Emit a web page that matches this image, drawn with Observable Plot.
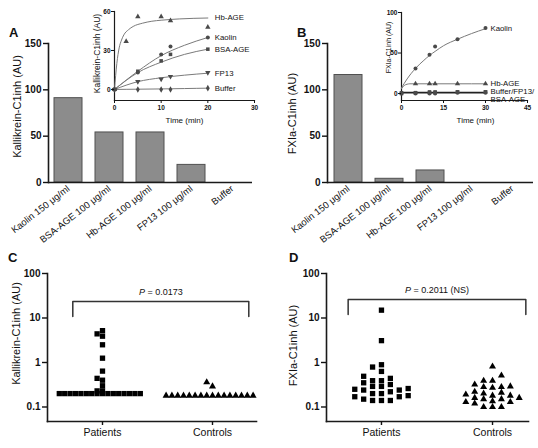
<!DOCTYPE html>
<html><head><meta charset="utf-8">
<script src="https://cdn.jsdelivr.net/npm/d3@7"></script>
<script src="https://cdn.jsdelivr.net/npm/@observablehq/plot@0.6"></script>
<style>
body{margin:0;background:#fff;}
#root{position:relative;width:538px;height:448px;overflow:hidden;font-family:"Liberation Sans",Arial,Helvetica,sans-serif;color:#111;}
.panel{position:absolute;}
.panel svg{overflow:visible;display:block;}
.letter{position:absolute;font:bold 13px "Liberation Sans",Arial,sans-serif;line-height:1;}
.main g[aria-label="y-axis tick label"]{font-size:10px;font-weight:bold;}
.main g[aria-label="x-axis tick label"]{font-size:9.5px;}
.scatter g[aria-label="y-axis tick label"]{font-size:10px;font-weight:bold;}
.scatter g[aria-label="x-axis tick label"]{font-size:10.5px;}
.inset g[aria-label="y-axis tick label"], .inset g[aria-label="x-axis tick label"]{font-size:6.5px;font-weight:bold;}
</style>
</head><body><div id="root"></div>
<script>
const FONT = '"Liberation Sans", Arial, Helvetica, sans-serif';

// ---- Panels A & B: bars ----
const categories = ["Kaolin 150 μg/ml", "BSA-AGE 100 μg/ml", "Hb-AGE 100 μg/ml", "FP13 100 μg/ml", "Buffer"];
const kallikreinC1inh = [91, 54, 54, 19, 0];
const fxiaC1inh = [116, 4, 13, 0, 0];
const barTicks = [0, 50, 100, 150];

// ---- Inset A (Kallikrein-C1inh vs time) ----
const timeA = [0, 5, 10, 12, 20];
const timeHbAgeA = [0, 2.5, 5, 10, 12, 20];
const hbAgeA = [0, 37, 56, 56, 53, 48];
const kaolinA = [0, 13, 27, 33, 40];
const bsaAgeA = [0, 14, 22, 27, 31];
const fp13A = [0, 6, 8, 10, 13];
const bufferA = [0, 0, 0, 0, 1];
const fitTimeHbAgeA = [0, 0.5, 1, 1.5, 2, 3, 4, 6, 8, 10, 14, 20];
const fitHbAgeA = [0, 20, 32, 38, 42, 46, 48.5, 51, 52.5, 53.3, 54.3, 55];
const fitTimeA = [0, 5, 10, 15, 20];
const fitKaolinA = [0, 14, 26, 34, 40];
const fitBsaAgeA = [0, 13, 21, 27, 31];
const fitFp13A = [0, 6, 9, 11, 12.5];
const fitBufferA = [0, 0.2, 0.4, 0.7, 1];

// ---- Inset B (FXIa-C1inh vs time) ----
const timeKaolinB = [5, 10, 12, 20, 30];
const kaolinB = [31, 48, 58, 67, 81];
const hbAgeB = [12, 12, 12, 12, 12];
const timeB = [0, 5, 10, 12, 20, 30];
const bufferB = [0, 0, 0, 0, 1, 1];
const fp13B = [0, 1, 1, 1, 2, 2];
const bsaAgeB = [1, 1, 2, 2, 2, 2];
const fitTimeKaolinB = [0, 2, 5, 8, 10, 12, 15, 20, 25, 30];
const fitKaolinB = [7, 18, 31, 41, 47, 52, 59, 67, 74, 80];
const fitTimeHbAgeB = [0, 1, 2, 3, 5, 10, 20, 30];
const fitHbAgeB = [6, 10, 11.5, 12, 12, 12, 12, 12];
const fitTimeFlatB = [0, 5, 10, 15, 20, 30];
const fitFlatB = [1, 1, 1, 1, 1, 1];

// ---- Panels C & D: patients vs controls ----
const groups = ["Patients", "Controls"];
const logTicks = [0.1, 1, 10, 100];
const patientsKallikrein = [5.2, 4.4, 3.9, 2.5, 1.25, 0.64, 0.44, 0.40, 0.30, 0.23, 0.23,
  0.2, 0.2, 0.2, 0.2, 0.2, 0.2, 0.2, 0.2, 0.2, 0.2, 0.2, 0.2, 0.2, 0.2, 0.2, 0.2];
const controlsKallikrein = [0.36, 0.29,
  0.18, 0.18, 0.18, 0.18, 0.18, 0.18, 0.18, 0.18, 0.18, 0.18, 0.18, 0.18, 0.18, 0.18, 0.18, 0.18];
const patientsFXIa = [15, 3.1, 0.89, 0.79, 0.63, 0.49, 0.44, 0.39, 0.39, 0.35, 0.32, 0.29, 0.29, 0.26,
  0.25, 0.24, 0.24, 0.22, 0.2, 0.2, 0.18, 0.17, 0.17, 0.15, 0.14, 0.14, 0.14];
const controlsFXIa = [0.81, 0.51, 0.39, 0.39, 0.32, 0.29, 0.28, 0.28, 0.27, 0.22, 0.21, 0.2, 0.19,
  0.18, 0.18, 0.16, 0.16, 0.15, 0.15, 0.135, 0.13, 0.13, 0.12, 0.1, 0.1, 0.1];
const pValueC = "P = 0.0173";
const pValueD = "P = 0.2011 (NS)";

// ---------------------------------------------------------------
const root = document.getElementById("root");
function place(node, left, top, cls) {
  const d = document.createElement("div");
  d.className = "panel " + cls;
  d.style.left = left + "px"; d.style.top = top + "px";
  d.appendChild(node); root.appendChild(d);
}
function letter(t, left, top) {
  const d = document.createElement("div");
  d.className = "letter"; d.textContent = t;
  d.style.left = left + "px"; d.style.top = top + "px";
  root.appendChild(d);
}
const base = {background: "transparent", fontFamily: FONT, overflow: "visible", color: "#111"};
function yTitle(label, dx, dy, size) {
  return Plot.text([label], {text: d => d, frameAnchor: "left", rotate: -90, textAnchor: "middle", lineAnchor: "middle", dx, dy, fontSize: size});
}

function barPanel(values, ylabel, o) {
  const data = categories.map((c, i) => ({cat: c, value: values[i]}));
  return Plot.plot({
    width: o.width, height: 250,
    marginLeft: o.ml, marginRight: o.mr, marginTop: 43, marginBottom: 68,
    style: base,
    x: {domain: categories, paddingInner: 0.32, paddingOuter: o.po},
    y: {domain: [0, 150]},
    marks: [
      Plot.barY(data, {x: "cat", y: "value", fill: "#8c8c8c", stroke: "#505050", strokeWidth: 1}),
      Plot.ruleY([0], {stroke: "#1a1a1a", strokeWidth: 1.6}),
      Plot.frame({anchor: "left", stroke: "#1a1a1a", strokeWidth: 1.6}),
      Plot.axisY({ticks: barTicks, tickSize: 5, tickPadding: 2, label: null, strokeWidth: 1.4}),
      Plot.axisX({tickSize: 0, tickPadding: 5, tickRotate: -38, label: null}),
      yTitle(ylabel, o.ldx, o.ldy, 11)
    ]
  });
}

function tidy(series, times, vals) { return times.map((t, i) => ({series, t, v: vals[i]})); }

function insetA() {
  const pts = [].concat(
    tidy("Hb-AGE", timeHbAgeA, hbAgeA), tidy("Kaolin", timeA, kaolinA), tidy("BSA-AGE", timeA, bsaAgeA),
    tidy("FP13", timeA, fp13A), tidy("Buffer", timeA, bufferA));
  const fits = [].concat(
    tidy("Hb-AGE", fitTimeHbAgeA, fitHbAgeA), tidy("Kaolin", fitTimeA, fitKaolinA), tidy("BSA-AGE", fitTimeA, fitBsaAgeA),
    tidy("FP13", fitTimeA, fitFp13A), tidy("Buffer", fitTimeA, fitBufferA));
  return Plot.plot({
    width: 190, height: 128, marginLeft: 34, marginRight: 16, marginTop: 11, marginBottom: 28,
    style: base,
    x: {domain: [0, 30]},
    y: {domain: [-8.5, 60]},
    symbol: {domain: ["Hb-AGE", "Kaolin", "BSA-AGE", "FP13", "Buffer"], range: ["triangle", "circle", "square", "triangle", "diamond"]},
    marks: [
      Plot.frame({anchor: "left", stroke: "#1a1a1a", strokeWidth: 1.2}),
      Plot.frame({anchor: "bottom", stroke: "#1a1a1a", strokeWidth: 1.2}),
      Plot.line(fits, {x: "t", y: "v", z: "series", stroke: "#7a7a7a", strokeWidth: 1, curve: "monotone-x"}),
      Plot.dot(pts, {x: "t", y: "v", symbol: "series", fill: "#4a4a4a", r: 2, rotate: d => d.series === "FP13" ? 180 : 0}),
      Plot.text(fits, Plot.selectLast({x: "t", y: "v", z: "series", text: "series", dx: 7, textAnchor: "start", fontSize: 7.8})),
      Plot.axisY({ticks: [0, 30, 60], tickSize: 3, tickPadding: 1, label: null}),
      Plot.axisX({ticks: [0, 10, 20, 30], tickSize: 3, tickPadding: 2, label: null}),
      yTitle("Kallikrein-C1inh (AU)", -17, -2.5, 8.5),
      Plot.text(["Time (min)"], {text: d => d, frameAnchor: "bottom", dy: 22, fontSize: 8})
    ]
  });
}

function insetB() {
  const pts = [].concat(
    tidy("Kaolin", timeKaolinB, kaolinB), tidy("Hb-AGE", timeKaolinB, hbAgeB),
    tidy("Buffer", timeB, bufferB), tidy("FP13", timeB, fp13B), tidy("BSA-AGE", timeB, bsaAgeB));
  const fitsGray = [].concat(tidy("Kaolin", fitTimeKaolinB, fitKaolinB), tidy("Hb-AGE", fitTimeHbAgeB, fitHbAgeB));
  const fitsFlat = tidy("Buffer/FP13/\nBSA-AGE", fitTimeFlatB, fitFlatB);
  return Plot.plot({
    width: 178, height: 128, marginLeft: 41, marginRight: 11, marginTop: 12, marginBottom: 28,
    style: base,
    x: {domain: [0, 45]},
    y: {domain: [-8.6, 100]},
    symbol: {domain: ["Kaolin", "Hb-AGE", "Buffer", "FP13", "BSA-AGE"], range: ["circle", "triangle", "circle", "square", "square"]},
    marks: [
      Plot.frame({anchor: "left", stroke: "#1a1a1a", strokeWidth: 1.2}),
      Plot.frame({anchor: "bottom", stroke: "#1a1a1a", strokeWidth: 1.2}),
      Plot.line(fitsGray, {x: "t", y: "v", z: "series", stroke: "#7a7a7a", strokeWidth: 1, curve: "monotone-x"}),
      Plot.line(fitsFlat, {x: "t", y: "v", stroke: "#222", strokeWidth: 1.8}),
      Plot.dot(pts, {x: "t", y: "v", symbol: "series", fill: "#4a4a4a", r: 2}),
      Plot.text(fitsGray, Plot.selectLast({x: "t", y: "v", z: "series", text: "series", dx: 5, textAnchor: "start", fontSize: 7.8})),
      Plot.text(fitsFlat, Plot.selectLast({x: "t", y: "v", text: "series", dx: 5, dy: -5, textAnchor: "start", lineAnchor: "top", lineHeight: 1.1, fontSize: 7.8})),
      Plot.axisY({ticks: [0, 50, 100], tickSize: 3, tickPadding: 1, label: null}),
      Plot.axisX({ticks: [0, 15, 30, 45], tickSize: 3, tickPadding: 2, label: null}),
      yTitle("FXIa-C1inh (AU)", -12.5, -9, 7),
      Plot.text(["Time (min)"], {text: d => d, frameAnchor: "bottom", dx: 11, dy: 22, fontSize: 8})
    ]
  });
}

function swarm(values, group, o) {
  const order = values.map((v, i) => i).sort((a, b) => values[a] - values[b]);
  const placed = [], out = [];
  for (const i of order) {
    const py = Math.log10(values[i]) * o.pxPerDecade;
    for (let k = 0; k < 400; k++) {
      const col = k === 0 ? 0 : (k % 2 === 1 ? -(k + 1) / 2 : k / 2);
      if (!placed.some(p => p.col === col && Math.abs(p.py - py) < o.minDy[group])) {
        placed.push({col, py});
        out.push({group, value: values[i], x: group + col * o.spacing[group] / o.pxPerUnit});
        break;
      }
    }
  }
  return out;
}

function scatterPanel(patients, controls, ylabel, pText, o) {
  const H = 198, mt = 23, mb = 27, ymin = 0.0472;
  const pxPerDecade = (H - mt - mb) / (2 - Math.log10(ymin));
  const pxPerUnit = (o.width - o.ml - o.mr) / (o.xmax - o.xmin);
  const so = {pxPerDecade, pxPerUnit, spacing: o.spacing, minDy: o.minDy};
  const pts = swarm(patients, 0, so).concat(swarm(controls, 1, so));
  const b = o.bracket;
  const bracket = [{x: b.x1, y: b.yEnd}, {x: b.x1, y: b.y}, {x: b.x2, y: b.y}, {x: b.x2, y: b.yEnd}];
  const svg = Plot.plot({
    width: o.width, height: H, marginLeft: o.ml, marginRight: o.mr, marginTop: mt, marginBottom: mb,
    style: base,
    x: {domain: [o.xmin, o.xmax]},
    y: {type: "log", domain: [ymin, 100]},
    marks: [
      Plot.frame({anchor: "left", stroke: "#1a1a1a", strokeWidth: 1.6}),
      Plot.frame({anchor: "bottom", stroke: "#1a1a1a", strokeWidth: 1.6}),
      Plot.line(bracket, {x: "x", y: "y", stroke: "#333", strokeWidth: 1.5}),
      Plot.text([pText], {text: d => d, x: (b.x1 + b.x2) / 2, y: b.y, dy: -9, fontSize: 9}),
      Plot.dot(pts.filter(d => d.group === 0), {x: "x", y: "value", symbol: "square", fill: "#000", r: 3}),
      Plot.dot(pts.filter(d => d.group === 1), {x: "x", y: "value", symbol: "triangle", fill: "#000", r: 2.6}),
      Plot.axisY({ticks: logTicks, tickFormat: d => String(d), tickSize: 5, tickPadding: 2, label: null, strokeWidth: 1.4}),
      Plot.axisX({ticks: [0, 1], tickFormat: i => groups[i], tickSize: 4, tickPadding: 3, label: null, strokeWidth: 1.4}),
      yTitle(ylabel, o.ldx, o.ldy, 11)
    ]
  });
  svg.querySelectorAll("text").forEach(t => {
    if (t.textContent === pText) {
      const rest = pText.slice(1);
      t.textContent = "";
      const ts = document.createElementNS("http://www.w3.org/2000/svg", "tspan");
      ts.setAttribute("font-style", "italic"); ts.textContent = "P";
      t.appendChild(ts); t.appendChild(document.createTextNode(rest));
    }
  });
  return svg;
}

place(barPanel(kallikreinC1inh, "Kallikrein-C1inh (AU)", {width: 265, ml: 48, mr: 13, po: 0.13, ldx: -31, ldy: -6.5}), 0, 0, "main");
place(barPanel(fxiaC1inh, "FXIa-C1inh (AU)", {width: 270, ml: 59, mr: 5, po: 0.14, ldx: -35, ldy: 0.5}), 268, 0, "main");
place(scatterPanel(patientsKallikrein, controlsKallikrein, "Kallikrein-C1inh (AU)", pValueC,
  {width: 268, ml: 47, mr: 12, xmin: -0.5, xmax: 1.4, spacing: [5.4, 5.8], minDy: [2.5, 5],
   bracket: {x1: -0.27, x2: 1.33, y: 23.5, yEnd: 10.8}, ldx: -31, ldy: -14}), 0, 250, "scatter");
place(scatterPanel(patientsFXIa, controlsFXIa, "FXIa-C1inh (AU)", pValueD,
  {width: 270, ml: 58, mr: 10, xmin: -0.495, xmax: 1.324, spacing: [8.9, 8.9], minDy: [5.5, 5.5],
   bracket: {x1: -0.30, x2: 1.30, y: 26, yEnd: 12}, ldx: -33.5, ldy: -2}), 268, 250, "scatter");
place(insetA(), 80, 0, "inset");
place(insetB(), 360, 0, "inset");
letter("A", 9, 26);
letter("B", 297, 26);
letter("C", 8, 251);
letter("D", 289, 251);
</script>
</body></html>
